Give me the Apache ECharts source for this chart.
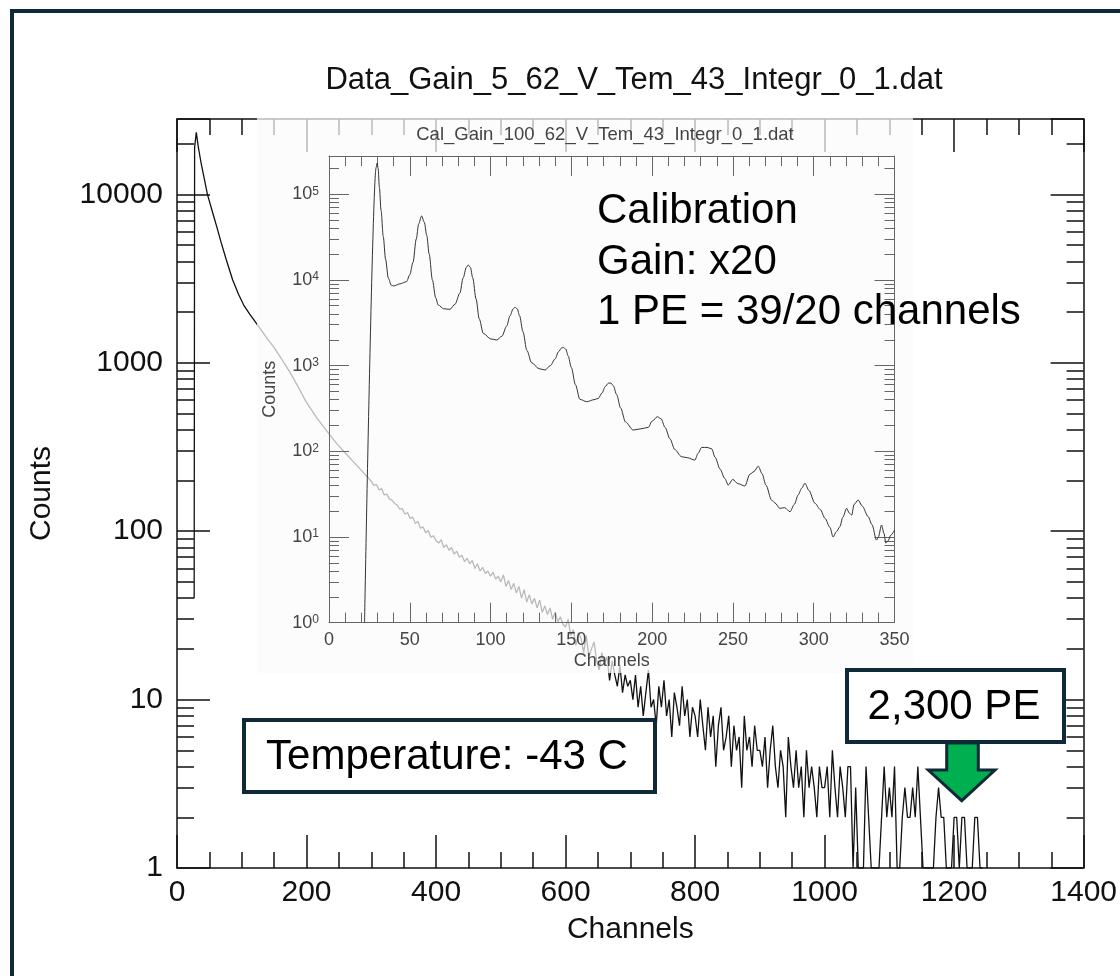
<!DOCTYPE html>
<html><head><meta charset="utf-8">
<script src="https://cdn.jsdelivr.net/npm/echarts@6/dist/echarts.min.js"></script>
<style>html,body{margin:0;padding:0;background:#fff}#c{width:1120px;height:976px}</style>
</head><body><div id="c"></div>
<script>
// ---- main spectrum (Data_Gain_5) ----
const headChannels = [26.5, 27.2, 29.8, 33, 37, 41, 47, 55, 62, 68, 76, 86, 95, 103, 112, 121, 130, 140, 150, 161, 175, 187, 199, 215, 232, 247, 262, 278, 293];
const headCounts   = [40, 19000, 23300, 19000, 15500, 13000, 10000, 7800, 6300, 5200, 4100, 3100, 2550, 2200, 1950, 1750, 1560, 1380, 1230, 1060, 870, 720, 590, 475, 390, 330, 285, 245, 212];
const tailStart = 300;
const tailStep = 4;
const tailCounts = [
  198,187,189,176,179,164,166,155,153,146,143,135,136,126,129,119,121,111,114,104,106,98,101,92,94,
  88,85,89,80,83,77,80,73,76,70,72,66,69,64,67,60,64,58,61,56,58,54,57,52,54,
  50,55,47,51,45,49,43,47,40,45,38,42,37,40,35,39,33,36,32,35,30,33,29,31,28,
  27,30,24,26,21,25,23,19,24,18,20,22,17,15,19,16,18,13,17,14,12,16,11,14,12,
  13,10,14,9,12,8,11,15,9,10,7,12,9,13,8,10,6,11,9,7,12,8,10,6,9,
  8,6,10,7,5,9,6,8,4,7,9,5,6,8,4,7,5,6,3,8,5,6,4,7,5,
  5,4,6,3,5,7,4,3,5,4,2,6,4,3,5,3,4,2,5,3,4,3,2,4,3,
  3,4,2,5,3,2,4,3,2,4,4,1,3,1,1,1,4,2,1,1,1,1,2,4,2,
  3,2,4,1,1,2,3,2,2,3,2,4,2,1,1,1,1,1,2,3,2,2,1,1,1,
  2,2,1,2,2,1,1,1,2,2,1,1
];

// ---- calibration spectrum (inset, Cal_Gain_100) ----
const calChannels = [22, 29.2, 29.8, 30.4, 31.2, 32.2, 33.6, 35, 36.7, 38.5, 40, 44, 48, 50, 52, 54, 55.5, 57.3, 59, 60.5, 62, 64, 66, 67.6, 71, 74.9, 78, 81, 83, 85, 86.2, 87.5, 89, 91, 93, 95.5, 100, 103.8, 107, 110, 112, 114, 115.1, 116.5, 118, 120, 122.5, 125.4, 130, 133.7, 137, 140, 142, 144, 145, 146.5, 148, 150, 152.5, 155.3, 159.5, 164, 166.7, 169, 171, 173, 174.5, 176, 178, 180.5, 183.5, 188.3, 193, 197.6, 200, 203.2, 205.5, 208, 211, 214, 218.2, 222, 226.4, 228.5, 230.6, 234, 236.8, 239, 242, 245, 247.1, 249.9, 253, 257.4, 260.5, 263, 265.7, 268, 270.5, 273.9, 276, 279, 282, 285.3, 288, 290.4, 292.5, 294.6, 297, 300.8, 304, 307, 310, 312, 314, 316.2, 318, 320.4, 322, 323.5, 325, 327.5, 330, 333.7, 336, 338.9, 340, 342, 343.5, 344.6, 346, 347.7, 350];
const calCounts = [1, 205000, 231000, 200000, 120000, 65000, 31900, 17500, 10500, 8700, 8490, 9000, 9540, 11500, 16000, 30000, 45000, 55700, 47000, 33000, 20000, 10000, 6200, 5100, 4600, 4540, 5200, 7000, 10500, 14000, 14900, 14000, 10500, 6000, 3500, 2380, 2050, 1990, 2200, 2900, 3800, 4600, 4790, 4600, 3800, 2500, 1500, 1080, 920, 889, 1000, 1200, 1450, 1610, 1630, 1560, 1300, 950, 600, 404, 379, 400, 415, 480, 570, 625, 625, 580, 460, 320, 220, 177, 183, 190, 225, 253, 240, 190, 140, 105, 86.5, 84, 79, 95, 111, 111, 107, 85, 62, 48, 40.4, 47, 42, 39.4, 54, 58, 67, 55, 40, 27, 25, 21.6, 22, 19.7, 24, 31, 37, 42.4, 35, 24.7, 21, 16.5, 13, 10, 11.5, 13.2, 17, 21.6, 19, 18, 24, 27, 23, 17.3, 14, 9.2, 10, 13.8, 11, 8.5, 9, 10.5, 12];

// ---- axes / text ----
const mainXTicks = {min: 0, max: 1400, interval: 200};
const mainYRange = {min: 1, max: 28000};
const calXTicks = {min: 0, max: 350, interval: 50};
const calYRange = {min: 1, max: 279000};
const mainTitle = 'Data_Gain_5_62_V_Tem_43_Integr_0_1.dat';
const calTitle = 'Cal_Gain_100_62_V_Tem_43_Integr_0_1.dat';
const calibLines = ['Calibration', 'Gain: x20', '1 PE = 39/20 channels'];
const tempLabel = 'Temperature: -43 C';
const peLabel = '2,300 PE';

const mainData = headChannels.map((c, i) => [c, headCounts[i]])
  .concat(tailCounts.map((v, i) => [tailStart + i * tailStep, v]));
const calData = calChannels.map((c, i) => [c, calCounts[i]]);

const FONT = 'Liberation Sans, Arial, sans-serif';
const INK = '#111';
const GREY = '#444';
const NAVY = '#0e2a38';

function mainX(pos, showLabel) {
  return {
    type: 'value', gridIndex: 0, position: pos, min: mainXTicks.min, max: mainXTicks.max, interval: mainXTicks.interval,
    axisLine: {show: true, onZero: false, lineStyle: {color: INK, width: 1.5}},
    axisTick: {show: true, inside: true, length: 33, lineStyle: {color: INK, width: 1.5}},
    minorTick: {show: true, splitNumber: 4, length: 16, lineStyle: {color: INK, width: 1.5}},
    splitLine: {show: false}, minorSplitLine: {show: false},
    axisLabel: {show: showLabel, color: INK, fontSize: 30, fontFamily: FONT, margin: 10, formatter: v => String(v)},
    name: showLabel ? 'Channels' : '', nameLocation: 'middle', nameGap: 47,
    nameTextStyle: {color: INK, fontSize: 30, fontFamily: FONT}
  };
}
function mainY(pos, showLabel) {
  return {
    type: 'log', logBase: 10, gridIndex: 0, position: pos, min: mainYRange.min, max: mainYRange.max,
    axisLine: {show: true, onZero: false, lineStyle: {color: INK, width: 1.5}},
    axisTick: {show: true, inside: true, length: 33, lineStyle: {color: INK, width: 1.5}},
    minorTick: {show: true, splitNumber: 9, length: 17, lineStyle: {color: INK, width: 1.5}},
    splitLine: {show: false}, minorSplitLine: {show: false},
    axisLabel: {show: showLabel, color: INK, fontSize: 30, fontFamily: FONT, margin: 14, showMaxLabel: false,
      formatter: v => String(Math.round(v))},
    name: showLabel ? 'Counts' : '', nameLocation: 'middle', nameGap: 120, nameRotate: 90,
    nameTextStyle: {color: INK, fontSize: 30, fontFamily: FONT}
  };
}
function calX(pos, showLabel) {
  return {
    type: 'value', gridIndex: 1, position: pos, z: 20, min: calXTicks.min, max: calXTicks.max, interval: calXTicks.interval,
    axisLine: {show: true, onZero: false, lineStyle: {color: '#666', width: 1}},
    axisTick: {show: true, inside: true, length: 20, lineStyle: {color: '#666', width: 1}},
    minorTick: {show: true, splitNumber: 5, length: 10, lineStyle: {color: '#666', width: 1}},
    splitLine: {show: false}, minorSplitLine: {show: false},
    axisLabel: {show: showLabel, color: GREY, fontSize: 18, fontFamily: FONT, margin: 8},
    name: showLabel ? 'Channels' : '', nameLocation: 'middle', nameGap: 29,
    nameTextStyle: {color: GREY, fontSize: 18, fontFamily: FONT}
  };
}
function calY(pos, showLabel) {
  return {
    type: 'log', logBase: 10, gridIndex: 1, position: pos, z: 20, min: calYRange.min, max: calYRange.max,
    axisLine: {show: true, onZero: false, lineStyle: {color: '#666', width: 1}},
    axisTick: {show: true, inside: true, length: 20, lineStyle: {color: '#666', width: 1}},
    minorTick: {show: true, splitNumber: 9, length: 10, lineStyle: {color: '#666', width: 1}},
    splitLine: {show: false}, minorSplitLine: {show: false},
    axisLabel: {show: showLabel, color: GREY, fontFamily: FONT, margin: 10, showMaxLabel: false,
      formatter: v => '{b|10}{s|' + Math.round(Math.log10(v)) + '}',
      rich: {b: {fontSize: 18, color: GREY, fontFamily: FONT}, s: {fontSize: 12, color: GREY, fontFamily: FONT, verticalAlign: 'top', lineHeight: 12}}},
    name: showLabel ? 'Counts' : '', nameLocation: 'middle', nameGap: 50, nameRotate: 90,
    nameTextStyle: {color: GREY, fontSize: 18, fontFamily: FONT}
  };
}

const chart = echarts.init(document.getElementById('c'), null, {renderer: 'canvas'});
chart.setOption({
  animation: false,
  backgroundColor: '#fff',
  title: [
    {text: mainTitle, left: 629, top: 60, textAlign: 'center', z: 6,
     textStyle: {color: INK, fontSize: 31, fontWeight: 'normal', fontFamily: FONT}},
    {text: calTitle, left: 600, top: 120, textAlign: 'center', z: 25,
     textStyle: {color: GREY, fontSize: 18.5, fontWeight: 'normal', fontFamily: FONT}}
  ],
  grid: [
    {left: 177, top: 119, width: 910, height: 749, containLabel: false},
    {left: 329, top: 156, width: 565.5, height: 466.7, containLabel: false, z: 20}
  ],
  xAxis: [mainX('bottom', true), mainX('top', false), calX('bottom', true), calX('top', false)],
  yAxis: [mainY('left', true), mainY('right', false), calY('left', true), calY('right', false)],
  series: [
    {type: 'line', xAxisIndex: 0, yAxisIndex: 0, data: mainData, showSymbol: false, symbol: 'none',
     lineStyle: {color: INK, width: 1.3}, z: 2, clip: true},
    {type: 'line', xAxisIndex: 2, yAxisIndex: 2, data: calData, showSymbol: false, symbol: 'none',
     smooth: 0.3, smoothMonotone: 'x', lineStyle: {color: '#333', width: 1}, z: 21, clip: true}
  ],
  graphic: {elements: [
    {type: 'rect', silent: true, z: 10, shape: {x: 257, y: 118, width: 656, height: 555},
     style: {fill: 'rgba(251,251,251,0.72)'}},
    {type: 'text', z: 30, style: {text: calibLines[0], x: 597, y: 211, fill: '#000', font: '42px ' + FONT, textAlign: 'left', textVerticalAlign: 'middle'}},
    {type: 'text', z: 30, style: {text: calibLines[1], x: 597, y: 262, fill: '#000', font: '42px ' + FONT, textAlign: 'left', textVerticalAlign: 'middle'}},
    {type: 'text', z: 30, style: {text: calibLines[2], x: 597, y: 312, fill: '#000', font: '42px ' + FONT, textAlign: 'left', textVerticalAlign: 'middle'}},
    {type: 'rect', z: 30, shape: {x: 244, y: 720, width: 411, height: 72}, style: {fill: '#fff', stroke: NAVY, lineWidth: 4}},
    {type: 'text', z: 31, style: {text: tempLabel, x: 447, y: 757, fill: '#000', font: '42px ' + FONT, textAlign: 'center', textVerticalAlign: 'middle'}},
    {type: 'rect', z: 30, shape: {x: 847, y: 670, width: 217, height: 72}, style: {fill: '#fff', stroke: NAVY, lineWidth: 4}},
    {type: 'text', z: 31, style: {text: peLabel, x: 954, y: 707, fill: '#000', font: '42px ' + FONT, textAlign: 'center', textVerticalAlign: 'middle'}},
    {type: 'polygon', z: 30, shape: {points: [[946.7, 743], [978.3, 743], [978.3, 770], [995, 770], [961.7, 800.7], [928.3, 770], [946.7, 770]]},
     style: {fill: '#00b050', stroke: NAVY, lineWidth: 3, lineJoin: 'miter'}},
    {type: 'rect', silent: true, z: 40, shape: {x: 12, y: 11, width: 1150, height: 1010}, style: {fill: 'none', stroke: NAVY, lineWidth: 4}}
  ]}
});
</script></body></html>
